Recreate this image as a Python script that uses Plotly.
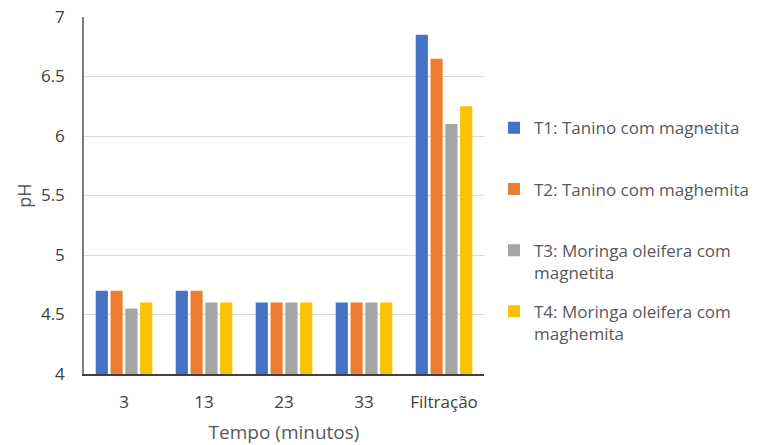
import plotly.graph_objects as go

# Tempo de coleta (minutos) e etapa final
categorias = ["3", "13", "23", "33", "Filtração"]

# pH medido para cada tratamento
t1_tanino_magnetita = [4.7, 4.7, 4.6, 4.6, 6.85]
t2_tanino_maghemita = [4.7, 4.7, 4.6, 4.6, 6.65]
t3_moringa_magnetita = [4.55, 4.6, 4.6, 4.6, 6.1]
t4_moringa_maghemita = [4.6, 4.6, 4.6, 4.6, 6.25]

nomes = [
    "T1: Tanino com magnetita<br> ",
    "T2: Tanino com maghemita<br> ",
    "T3: Moringa oleifera com<br>magnetita",
    "T4: Moringa oleifera com<br>maghemita",
]
series = [t1_tanino_magnetita, t2_tanino_maghemita,
          t3_moringa_magnetita, t4_moringa_maghemita]
cores = ["#4472C4", "#ED7D31", "#A5A5A5", "#FFC000"]

fig = go.Figure()
for i, (nome, valores, cor) in enumerate(zip(nomes, series, cores)):
    fig.add_trace(go.Bar(
        x=categorias, y=valores, name=nome,
        marker=dict(color=cor, line=dict(width=0)),
        legendgroup=f"g{i}",
    ))

fonte = "Open Sans, Segoe UI, sans-serif"

fig.update_layout(
    width=758, height=445,
    margin=dict(l=84, r=274, t=17, b=71, autoexpand=False),
    paper_bgcolor="white", plot_bgcolor="white",
    barmode="group", bargap=0.26, bargroupgap=0.18,
    font=dict(family=fonte, color="#595959"),
    showlegend=True,
    legend=dict(
        x=1.025, xanchor="left", y=0.739, yanchor="top",
        font=dict(size=17, color="#595959", family=fonte),
        valign="top", tracegroupgap=14,
        itemwidth=30, bgcolor="rgba(0,0,0,0)",
    ),
    xaxis=dict(
        title=dict(text="Tempo (minutos)", font=dict(size=19, color="#595959"), standoff=16),
        tickfont=dict(size=17, color="#404040"),
        showline=True, linecolor="#404040", linewidth=1.5,
        ticks="", showgrid=False, ticklabelstandoff=12,
        automargin=False,
    ),
    yaxis=dict(
        title=dict(text="pH", font=dict(size=18, color="#595959"), standoff=5),
        range=[4, 7], dtick=0.5, tick0=4,
        tickfont=dict(size=17, color="#404040"),
        showline=True, linecolor="#7f7f7f", linewidth=1.5,
        showgrid=True, gridcolor="#D9D9D9", gridwidth=1,
        ticks="", ticklabelstandoff=14,
        zeroline=False, automargin=False,
    ),
)

fig.write_html("out.html")
